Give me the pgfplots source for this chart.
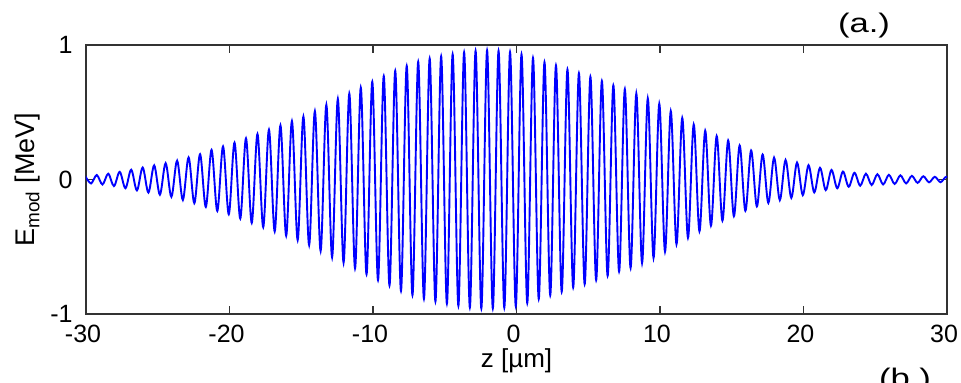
\documentclass[border=0pt]{standalone}
\usepackage{fontspec}
\setmainfont{Liberation Sans}
\usepackage{graphicx}
\usepackage{pgfplots}
\pgfplotsset{compat=1.18}

\begin{document}
\begin{tikzpicture}[font=\fontsize{12.5bp}{15bp}\selectfont]
\begin{axis}[
  scale only axis,
  width=430.5bp, height=134.5bp,
  xmin=-30, xmax=30, ymin=-1, ymax=1,
  xtick={-30,-20,...,30},
  ytick={-1,0,1},
  tick align=inside,
  major tick length=4bp,
  axis line style={line width=0.7bp, black!80},
  every tick/.style={line width=0.6bp, black!80},
  /pgf/number format/assume math mode=true,
  tick label style={font=\fontsize{12.5bp}{15bp}\selectfont},
  xticklabel style={anchor=north, inner sep=0pt, yshift=-5.5bp, xshift=-1.5bp},
  yticklabel style={anchor=east, inner sep=0pt, xshift=-6.5bp},
  xlabel={z [µm]},
  xlabel style={at={(axis description cs:0.5,0)}, anchor=north, inner sep=0pt, yshift=-17bp, font=\fontsize{13bp}{15bp}\selectfont},
  ylabel={E\textsubscript{mod} [MeV]},
  ylabel style={at={(axis description cs:-0.0674,0.5)}, anchor=center, inner sep=0pt, font=\fontsize{13.5bp}{16bp}\selectfont},
  clip=true,
]
% modulated field: peak / trough samples every half period (0.4 um)
\addplot[color={rgb,255:red,0;green,0;blue,255}, line width=0.95bp, smooth, tension=0.55] coordinates {
(-30.05,0.025)
(-29.65,-0.029) (-29.25,0.033) (-28.85,-0.037) (-28.45,0.043) (-28.05,-0.049)
(-27.65,0.057) (-27.25,-0.065) (-26.85,0.073) (-26.45,-0.081) (-26.05,0.089)
(-25.65,-0.097) (-25.25,0.105) (-24.85,-0.113) (-24.45,0.121) (-24.05,-0.129)
(-23.65,0.140) (-23.25,-0.152) (-22.85,0.164) (-22.45,-0.176) (-22.05,0.188)
(-21.65,-0.204) (-21.25,0.220) (-20.85,-0.234) (-20.45,0.246) (-20.05,-0.258)
(-19.65,0.274) (-19.25,-0.290) (-18.85,0.306) (-18.45,-0.322) (-18.05,0.338)
(-17.65,-0.354) (-17.25,0.370) (-16.85,-0.386) (-16.45,0.402) (-16.05,-0.418)
(-15.65,0.434) (-15.25,-0.450) (-14.85,0.468) (-14.45,-0.488) (-14.05,0.508)
(-13.65,-0.531) (-13.25,0.555) (-12.85,-0.578) (-12.45,0.598) (-12.05,-0.618)
(-11.65,0.639) (-11.25,-0.661) (-10.85,0.683) (-10.45,-0.705) (-10.05,0.727)
(-9.65,-0.748) (-9.25,0.768) (-8.85,-0.788) (-8.45,0.808) (-8.05,-0.828)
(-7.65,0.844) (-7.25,-0.860) (-6.85,0.875) (-6.45,-0.887) (-6.05,0.899)
(-5.65,-0.907) (-5.25,0.915) (-4.85,-0.923) (-4.45,0.931) (-4.05,-0.939)
(-3.65,0.945) (-3.25,-0.951) (-2.85,0.956) (-2.45,-0.958) (-2.05,0.960)
(-1.65,-0.958) (-1.25,0.956) (-0.85,-0.953) (-0.45,0.947) (-0.05,-0.941)
(0.35,0.930) (0.75,-0.918) (1.15,0.904) (1.55,-0.888) (1.95,0.872)
(2.35,-0.860) (2.75,0.848) (3.15,-0.834) (3.55,0.818) (3.95,-0.802)
(4.35,0.790) (4.75,-0.778) (5.15,0.764) (5.55,-0.748) (5.95,0.732)
(6.35,-0.716) (6.75,0.700) (7.15,-0.685) (7.55,0.671) (7.95,-0.657)
(8.35,0.639) (8.75,-0.621) (9.15,0.603) (9.55,-0.583) (9.95,0.563)
(10.35,-0.536) (10.75,0.508) (11.15,-0.481) (11.55,0.457) (11.95,-0.433)
(12.35,0.409) (12.75,-0.385) (13.15,0.363) (13.55,-0.343) (13.95,0.323)
(14.35,-0.306) (14.75,0.290) (15.15,-0.273) (15.55,0.253) (15.95,-0.233)
(16.35,0.216) (16.75,-0.200) (17.15,0.186) (17.55,-0.174) (17.95,0.162)
(18.35,-0.153) (18.75,0.145) (19.15,-0.136) (19.55,0.126) (19.95,-0.116)
(20.35,0.106) (20.75,-0.096) (21.15,0.087) (21.55,-0.079) (21.95,0.071)
(22.35,-0.065) (22.75,0.059) (23.15,-0.054) (23.55,0.050) (23.95,-0.046)
(24.35,0.043) (24.75,-0.041) (25.15,0.039) (25.55,-0.037) (25.95,0.035)
(26.35,-0.033) (26.75,0.031) (27.15,-0.029) (27.55,0.027) (27.95,-0.025)
(28.35,0.024) (28.75,-0.021) (29.15,0.020) (29.55,-0.020) (29.95,0.020)
(30.35,-0.018)
};
\end{axis}
% panel tags
\node[anchor=north, inner sep=0pt] at (389bp,150.5bp) {\resizebox*{26bp}{12.5bp}{(a.)}};
\node[anchor=north, inner sep=0pt] at (409.5bp,-27bp) {\resizebox*{26bp}{12.5bp}{(b.)}};
\pgfresetboundingbox
\useasboundingbox (-43bp,-34.5bp) rectangle (437.5bp,157bp);
\end{tikzpicture}
\end{document}
